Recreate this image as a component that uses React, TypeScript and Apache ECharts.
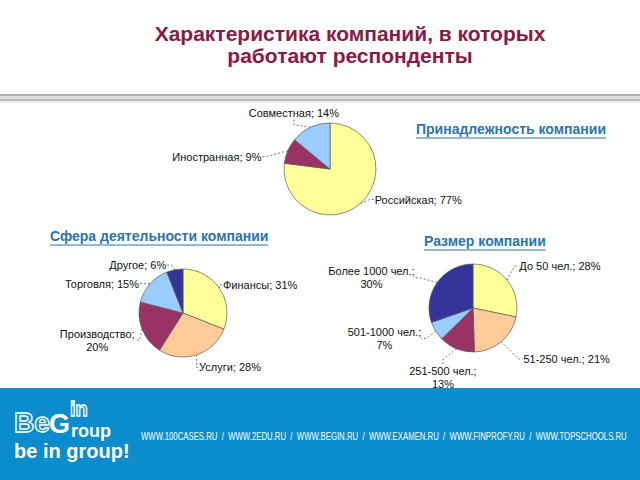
import React, { useEffect, useRef } from "react";
import * as echarts from "echarts";

const ownershipNames = ["Российская", "Иностранная", "Совместная"];
const ownershipValues = [77, 9, 14];
const ownershipColors = ["#FFFF99", "#993366", "#99CCFF"];

const sectorNames = ["Финансы", "Услуги", "Производство", "Торговля", "Другое"];
const sectorValues = [31, 28, 20, 15, 6];
const sectorColors = ["#FFFF99", "#FFCC99", "#993366", "#99CCFF", "#333399"];

const sizeNames = ["До 50 чел.", "51-250 чел.", "251-500 чел.", "501-1000 чел.", "Более 1000 чел."];
const sizeValues = [28, 21, 13, 7, 30];
const sizeColors = ["#FFFF99", "#FFCC99", "#993366", "#99CCFF", "#333399"];

const mainTitle = "Характеристика компаний, в которых\nработают респонденты";
const subtitleTexts = ["Принадлежность компании", "Сфера деятельности компании", "Размер компании"];
const footerUrls =
  "WWW.100CASES.RU  /  WWW.2EDU.RU  /  WWW.BEGIN.RU  /  WWW.EXAMEN.RU  /  WWW.FINPROFY.RU  /  WWW.TOPSCHOOLS.RU";

const FONT = "'Liberation Sans', Arial, sans-serif";
const SUB_COLOR = "#2a74b0";
const TITLE_COLOR = "#8b1a43";

// label nudges (dx, dy) relative to ECharts' own outside-label layout, per series / slice
const labelNudges: number[][][] = [
  [[-1, -10], [-9, 9], [42, -7]],
  [[-13, 1], [-10, 5], [10, 8], [5, 5], [3, 3]],
  [[-4, -9], [7, 11], [33, 14], [0, 3], [-6, 0]],
];

function measure(text: string, font: string): number {
  const ctx = document.createElement("canvas").getContext("2d");
  if (!ctx) return text.length * 6;
  ctx.font = font;
  return ctx.measureText(text).width;
}

function makeData(names: string[], values: number[], colors: string[]) {
  return names.map((n, i) => ({ name: n, value: values[i], itemStyle: { color: colors[i] } }));
}

function labelFormatter(p: any) {
  return p.name.length >= 12 ? `${p.name};\n${p.value}%` : `${p.name}; ${p.value}%`;
}

function pieSeries(data: any[], center: [number, number], radius: number) {
  return {
    type: "pie",
    center,
    radius,
    startAngle: 90,
    clockwise: true,
    data,
    itemStyle: { borderColor: "#5a5a5a", borderWidth: 0.7 },
    label: {
      show: true,
      position: "outside",
      formatter: labelFormatter,
      fontFamily: FONT,
      fontSize: 11,
      color: "#111",
      lineHeight: 13,
      align: "center",
    },
    labelLine: {
      show: true,
      length: 8,
      length2: 5,
      lineStyle: { color: "#555", width: 0.8, type: [2, 2] },
    },
    labelLayout: (p: any) => {
      const n = labelNudges[p.seriesIndex]?.[p.dataIndex] || [0, 0];
      const r = p.labelRect;
      return {
        x: r.x + r.width / 2 + n[0],
        y: r.y + n[1],
        align: "center",
        verticalAlign: "top",
      };
    },
    emphasis: { disabled: true },
  };
}

export default function App() {
  const ref = useRef<HTMLDivElement>(null);
  useEffect(() => {
    if (!ref.current) return;
    const chart = echarts.init(ref.current, null, { renderer: "svg" });

    const subFont = `bold 14px ${FONT}`;
    const subPos = [
      { x: 416, y: 122 },
      { x: 50, y: 229 },
      { x: 424, y: 234 },
    ];
    const urlFont = `11px ${FONT}`;
    const urlW = measure(footerUrls, urlFont);
    const urlScale = 486 / urlW;

    const graphic: any[] = [
      { type: "rect", shape: { x: 0, y: 94, width: 640, height: 2 }, style: { fill: "#b0b0b0" } },
      { type: "rect", shape: { x: 0, y: 96, width: 640, height: 3 }, style: { fill: "#dcdcdc" } },
      { type: "rect", shape: { x: 0, y: 99, width: 640, height: 2 }, style: { fill: "#bdbdbd" } },
      { type: "rect", shape: { x: 0, y: 101, width: 640, height: 2 }, style: { fill: "#ececec" } },
      { type: "rect", shape: { x: 0, y: 388, width: 640, height: 92 }, style: { fill: "#0b8dcd" } },
      {
        type: "text",
        x: 14,
        y: 436,
        style: { text: "Be", font: `bold 28px ${FONT}`, fill: "rgba(0,0,0,0)", stroke: "#fff", lineWidth: 1.4, verticalAlign: "bottom" },
      },
      {
        type: "text",
        x: 49,
        y: 437,
        style: { text: "G", font: `bold 27px ${FONT}`, fill: "#fff", verticalAlign: "bottom" },
      },
      {
        type: "text",
        x: 70,
        y: 419,
        style: { text: "in", font: `bold 20px ${FONT}`, fill: "rgba(0,0,0,0)", stroke: "#fff", lineWidth: 1.3, verticalAlign: "bottom" },
      },
      {
        type: "text",
        x: 71,
        y: 440,
        style: { text: "roup", font: `bold 18px ${FONT}`, fill: "#fff", verticalAlign: "bottom" },
      },
      {
        type: "text",
        x: 14,
        y: 451,
        style: { text: "be in group!", font: `bold 20px ${FONT}`, fill: "#fff", verticalAlign: "middle" },
      },
      {
        type: "text",
        x: 141,
        y: 436,
        scaleX: urlScale,
        style: { text: footerUrls, font: urlFont, fill: "#fff", verticalAlign: "middle" },
      },
    ];
    subtitleTexts.forEach((t, i) => {
      const w = measure(t, subFont);
      graphic.push({
        type: "line",
        shape: { x1: subPos[i].x, y1: subPos[i].y + 16, x2: subPos[i].x + w, y2: subPos[i].y + 16 },
        style: { stroke: SUB_COLOR, lineWidth: 1 },
      });
    });

    chart.setOption({
      animation: false,
      backgroundColor: "#ffffff",
      title: [
        {
          text: mainTitle,
          left: 350,
          top: 22,
          textAlign: "center",
          padding: 0,
          textStyle: { fontFamily: FONT, fontSize: 21, fontWeight: "bold", color: TITLE_COLOR, lineHeight: 22, align: "center" },
        },
        ...subtitleTexts.map((t, i) => ({
          text: t,
          left: subPos[i].x,
          top: subPos[i].y,
          padding: 0,
          textStyle: { fontFamily: FONT, fontSize: 14, fontWeight: "bold", color: SUB_COLOR },
        })),
      ],
      graphic,
      series: [
        pieSeries(makeData(ownershipNames, ownershipValues, ownershipColors), [330, 169], 46),
        pieSeries(makeData(sectorNames, sectorValues, sectorColors), [183, 313], 44),
        pieSeries(makeData(sizeNames, sizeValues, sizeColors), [473, 308], 44),
      ],
    });
    return () => chart.dispose();
  }, []);
  return <div ref={ref} style={{ position: "absolute", left: 0, top: 0, width: 640, height: 480 }} />;
}
